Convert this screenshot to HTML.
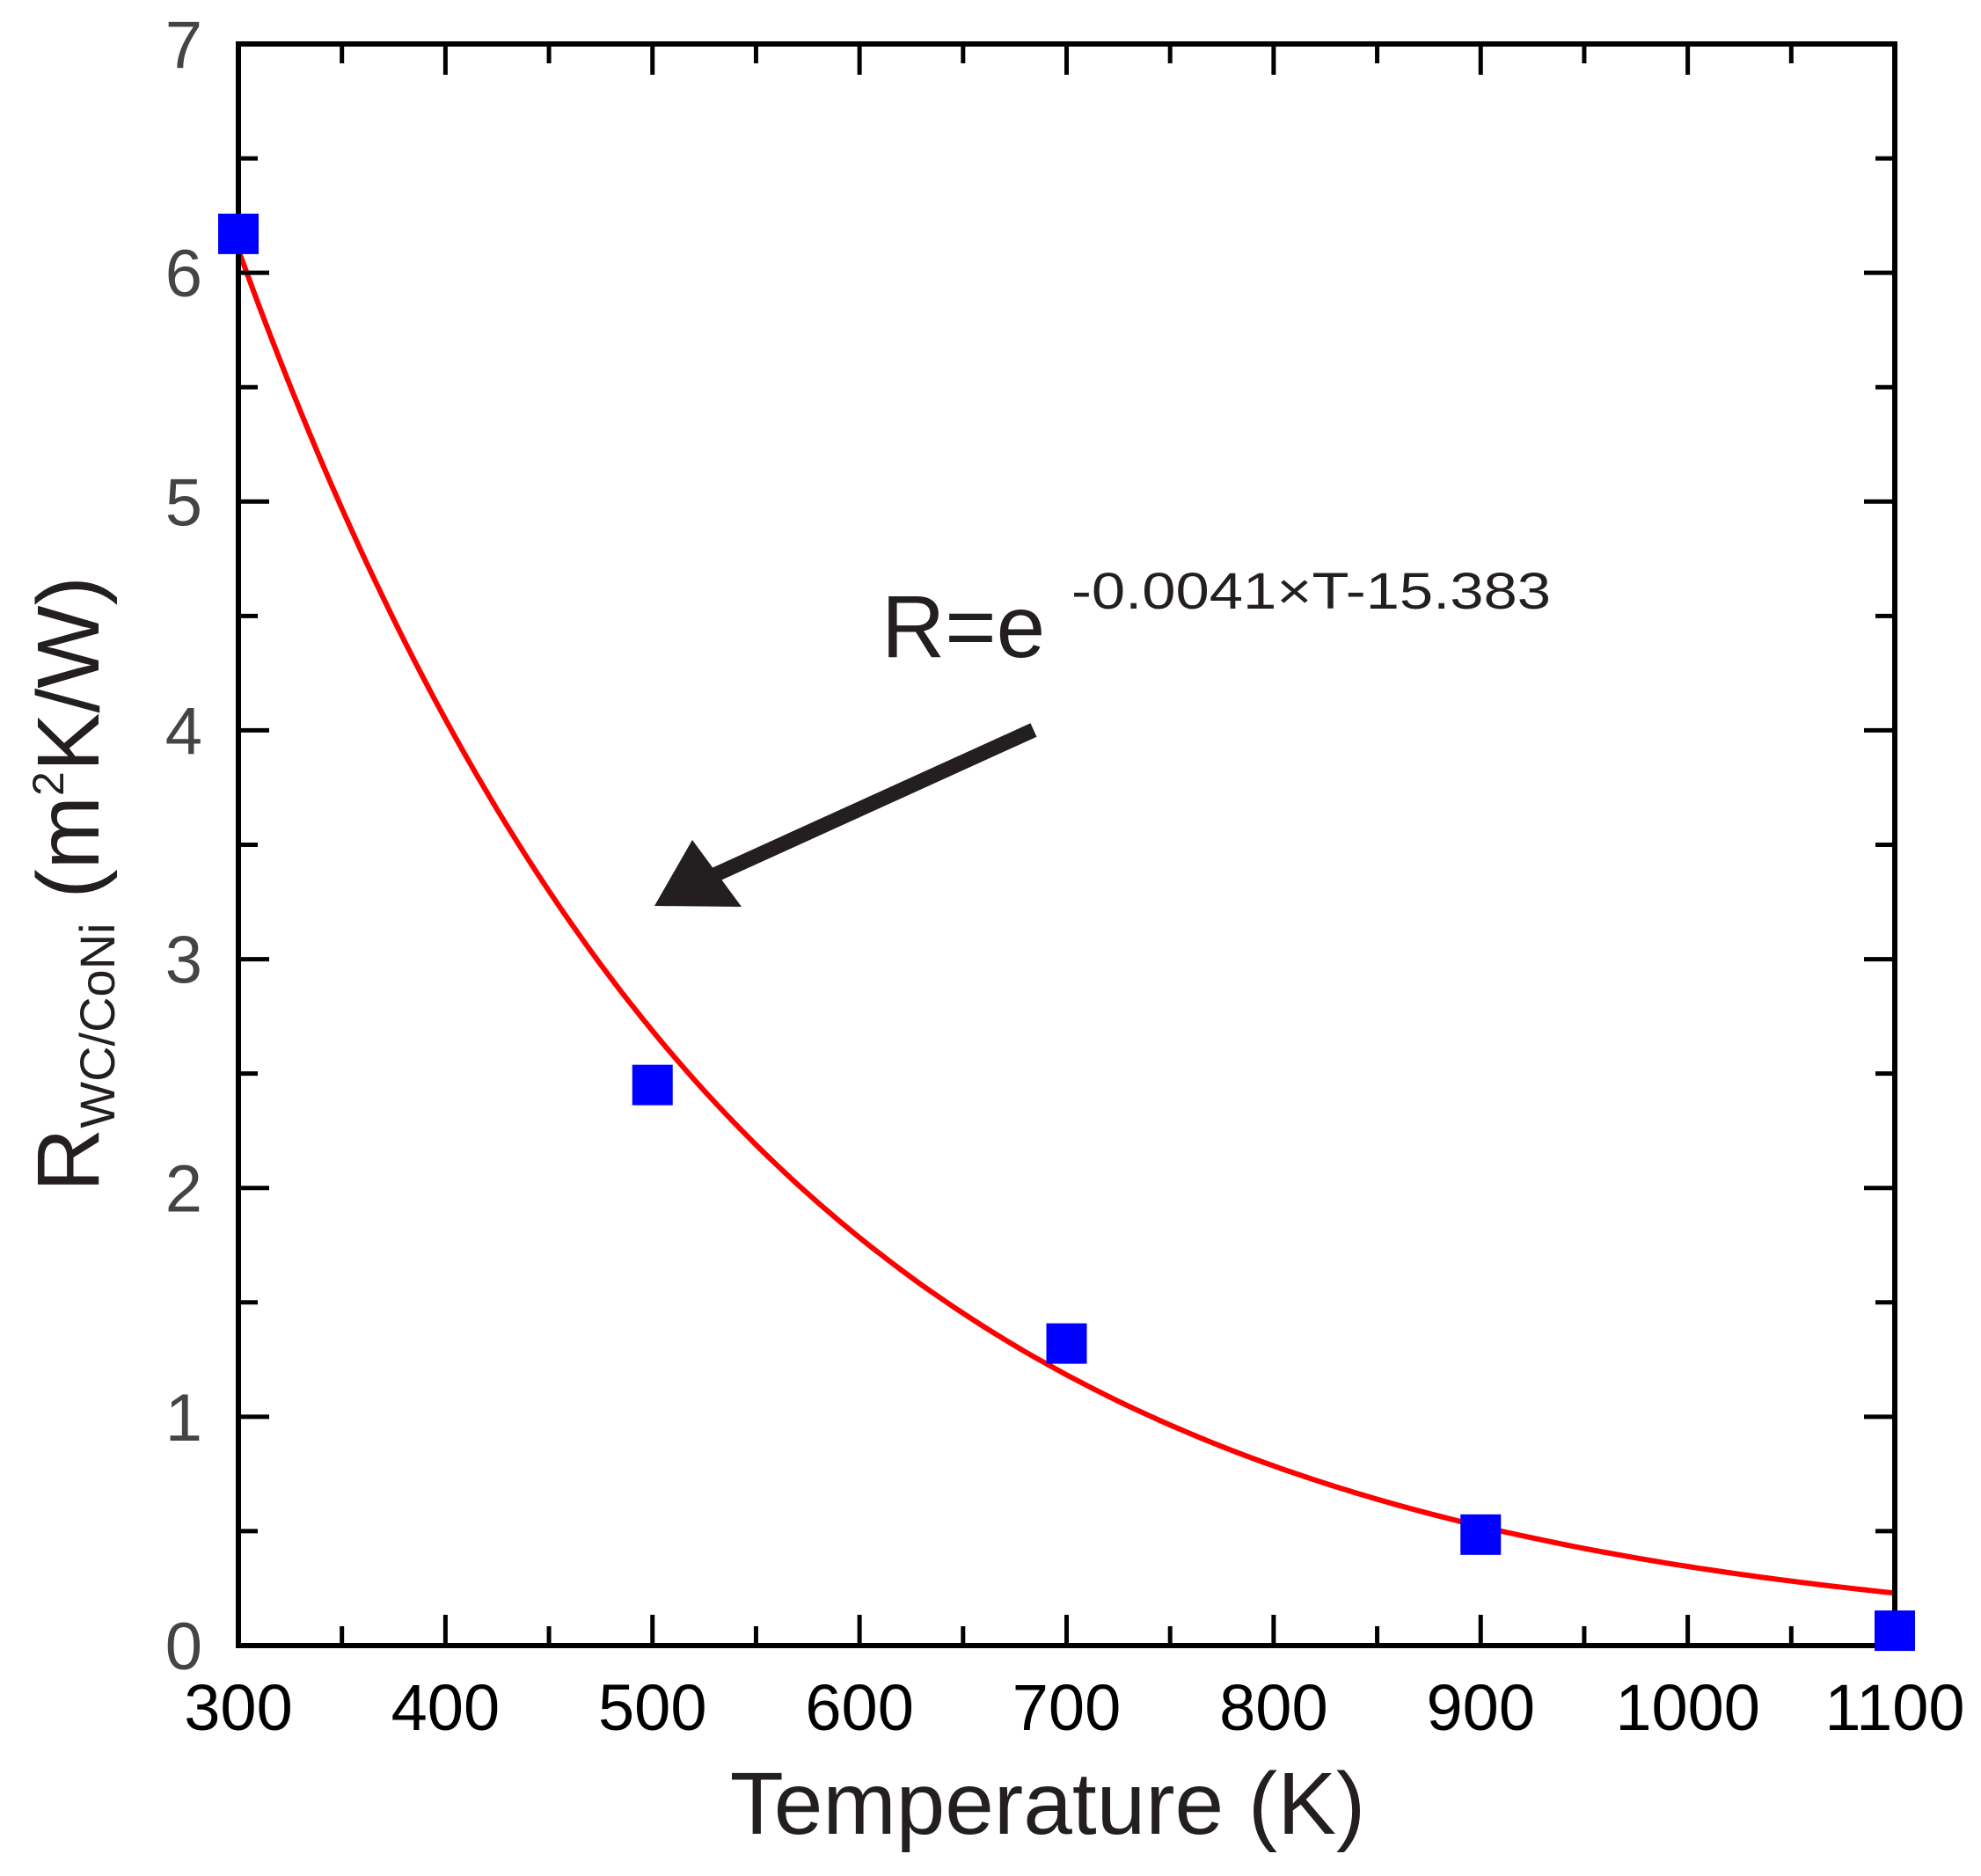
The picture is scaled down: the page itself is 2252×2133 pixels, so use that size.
<!DOCTYPE html>
<html><head><meta charset="utf-8"><style>
html,body{margin:0;padding:0;background:#fff;}
svg{display:block;font-family:"Liberation Sans",Arial,sans-serif;}
</style></head><body>
<svg id="chart" width="2252" height="2133" viewBox="0 0 2252 2133" xmlns="http://www.w3.org/2000/svg">
<rect x="0" y="0" width="2252" height="2133" fill="#fff"/>
<g id="plot"></g>
<text x="1191" y="2085" font-size="100" fill="#231f20" text-anchor="middle">Temperature (K)</text>
<text transform="translate(112,1005) rotate(-90)" font-size="100" fill="#231f20" text-anchor="middle">R<tspan font-size="56" dy="18">WC/CoNi</tspan><tspan dy="-18"> (m</tspan><tspan font-size="50" dy="-40">2</tspan><tspan dy="40">K/W)</tspan></text>
<g>
<text x="1002" y="747" font-size="100" fill="#231f20">R=e</text>
<text x="1218" y="692" font-size="58" fill="#231f20" textLength="545" lengthAdjust="spacingAndGlyphs">-0.0041×T-15.383</text>
</g>
<g>
<line x1="1175" y1="830" x2="790" y2="1005" stroke="#231f20" stroke-width="17"/>
<polygon points="744,1030 787,955 843,1031" fill="#231f20"/>
</g>
</svg>
<script>
const xTicks=[300,400,500,600,700,800,900,1000,1100];
const yTicks=[0,1,2,3,4,5,6,7];
const temps=[300,500,700,900,1100];
const resist=[6.17,2.45,1.32,0.485,0.065];
const fitA=[6.1];
const fitK=[0.0041];
const fitT0=[300];

const L=271,R=2154,T=50,B=1871;
const xMin=300,xMax=1100,yMin=0,yMax=7;
const sx=v=>L+(v-xMin)/(xMax-xMin)*(R-L);
const sy=v=>B-(v-yMin)/(yMax-yMin)*(B-T);
const NS='http://www.w3.org/2000/svg';
const g=document.getElementById('plot');
function mk(tag,attrs){const e=document.createElementNS(NS,tag);for(const k in attrs)e.setAttribute(k,attrs[k]);g.appendChild(e);return e;}

// fit curve
let d='';
for(let t=xMin;t<=xMax;t+=5){const v=fitA[0]*Math.exp(-fitK[0]*(t-fitT0[0]));d+=(d?'L':'M')+sx(t).toFixed(1)+','+sy(v).toFixed(1);}
const curve=mk('path',{d:d,fill:'none',stroke:'#ff0000','stroke-width':6});



// ticks
for(let i=0;i<xTicks.length;i++){
  const x=sx(xTicks[i]);
  const t1=mk('line',{x1:x,y1:B,x2:x,y2:B-35,stroke:'#000','stroke-width':5});
  
  
  const t2=mk('line',{x1:x,y1:T,x2:x,y2:T+35,stroke:'#000','stroke-width':5});
  
  
  if(i<xTicks.length-1){
    const xm=sx(xTicks[i]+50);
    const m1=mk('line',{x1:xm,y1:B,x2:xm,y2:B-22,stroke:'#000','stroke-width':5});
    
    
    const m2=mk('line',{x1:xm,y1:T,x2:xm,y2:T+22,stroke:'#000','stroke-width':5});
    
    
  }
  const lb=mk('text',{x:x,y:1967,'font-size':74,fill:'#000','text-anchor':'middle'});
  lb.textContent=xTicks[i];
  
  
}
for(let i=0;i<yTicks.length;i++){
  const y=sy(yTicks[i]);
  const t1=mk('line',{x1:L,y1:y,x2:L+35,y2:y,stroke:'#000','stroke-width':5});
  
  
  const t2=mk('line',{x1:R,y1:y,x2:R-35,y2:y,stroke:'#000','stroke-width':5});
  
  
  if(i<yTicks.length-1){
    const ym=sy(yTicks[i]+0.5);
    const m1=mk('line',{x1:L,y1:ym,x2:L+22,y2:ym,stroke:'#000','stroke-width':5});
    
    
    const m2=mk('line',{x1:R,y1:ym,x2:R-22,y2:ym,stroke:'#000','stroke-width':5});
    
    
  }
  const lb=mk('text',{x:230,y:y+27,'font-size':76,fill:'#444','text-anchor':'end'});
  lb.textContent=yTicks[i];
  
  
}
const frame=mk('rect',{x:L,y:T,width:R-L,height:B-T,fill:'none',stroke:'#000','stroke-width':6});



// markers
const s=46;
for(let i=0;i<temps.length;i++){
  const m=mk('rect',{x:sx(temps[i])-s/2,y:sy(resist[i])-s/2,width:s,height:s,fill:'#0000ff'});
  
  
}
</script>
</body></html>
